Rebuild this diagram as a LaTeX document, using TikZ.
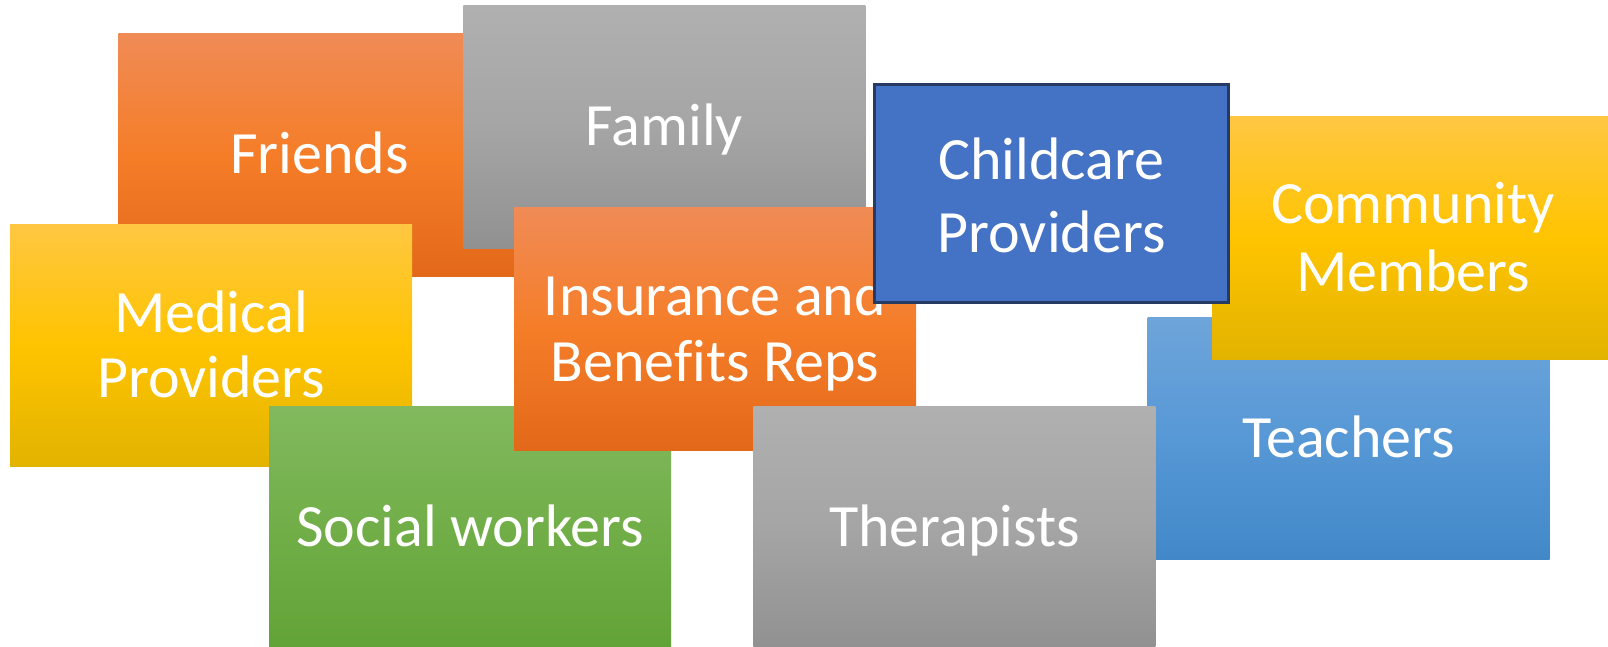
\documentclass[tikz,border=0pt]{standalone}
\usepackage{fontspec}
\setmainfont{Carlito}[Ligatures=NoCommon]
\definecolor{orT}{RGB}{240,139,86}
\definecolor{orM}{RGB}{245,125,40}
\definecolor{orB}{RGB}{227,105,26}
\definecolor{gdT}{RGB}{255,199,66}
\definecolor{gdM}{RGB}{255,196,0}
\definecolor{gdB}{RGB}{226,179,0}
\definecolor{gyT}{RGB}{176,176,176}
\definecolor{gyM}{RGB}{165,165,165}
\definecolor{gyB}{RGB}{145,145,145}
\definecolor{gnT}{RGB}{130,185,95}
\definecolor{gnM}{RGB}{113,174,72}
\definecolor{gnB}{RGB}{98,163,55}
\definecolor{blT}{RGB}{110,165,218}
\definecolor{blM}{RGB}{87,152,214}
\definecolor{blB}{RGB}{66,136,200}
\definecolor{ccFill}{RGB}{68,114,196}
\definecolor{ccLine}{RGB}{38,58,100}
\tikzset{
  tile/.style={rectangle, anchor=north west, inner sep=0pt, outer sep=0pt,
    minimum width=402pt, minimum height=242pt},
  orangetile/.style={tile, top color=orT, bottom color=orB, middle color=orM},
  goldtile/.style={tile, top color=gdT, bottom color=gdB, middle color=gdM},
  graytile/.style={tile, top color=gyT, bottom color=gyB, middle color=gyM},
  greentile/.style={tile, top color=gnT, bottom color=gnB, middle color=gnM},
  bluetile/.style={tile, top color=blT, bottom color=blB, middle color=blM},
  label/.style={anchor=base, inner sep=0pt, text=white, align=center,
    font=\fontsize{60}{66}\selectfont},
}
\begin{document}
\begin{tikzpicture}[x=1pt, y=-1pt]
\useasboundingbox (0,0) rectangle (1608,647);
\clip (0,0) rectangle (1608,647);
% tiles with their captions, back to front
\node[orangetile] (friendsbox) at (118.3,34) {};
\node[label] (friends) at (319.5,174) {Friends};
\node[graytile]   (familybox)  at (463.3,6) {};
\node[label] (family)  at (664.5,146) {Family};
\node[goldtile]   (medicalbox) at (10,224) {};
\node[label, font=\fontsize{60}{65.4}\selectfont] (medical) at (211,397.7) {Medical\\Providers};
\node[greentile]  (socialbox)  at (269,406) {};
\node[label] (social) at (470,546.7) {Social workers};
\node[orangetile] (insurebox)  at (514,208) {};
\node[label] (insure) at (715,381) {Insurance and\\Benefits Reps};
\node[bluetile]   (teachbox)   at (1147.5,317) {};
\node[label] (teach) at (1348.5,457.3) {Teachers};
\node[goldtile]   (commbox)    at (1212,117) {};
\node[label, font=\fontsize{60}{67.7}\selectfont] (comm) at (1413,291) {Community\\Members};
\node[graytile]   (therabox)   at (753.3,406) {};
\node[label] (thera) at (954.5,546.7) {Therapists};
\node[rectangle, anchor=north west, inner sep=0pt, outer sep=0pt,
      minimum width=353.5pt, minimum height=217.5pt,
      fill=ccFill, draw=ccLine, line width=3pt] (childbox) at (874.8,84.8) {};
\node[label, font=\fontsize{60}{73.3}\selectfont] (child) at (1051.5,252.3) {Childcare\\Providers};
\end{tikzpicture}
\end{document}
